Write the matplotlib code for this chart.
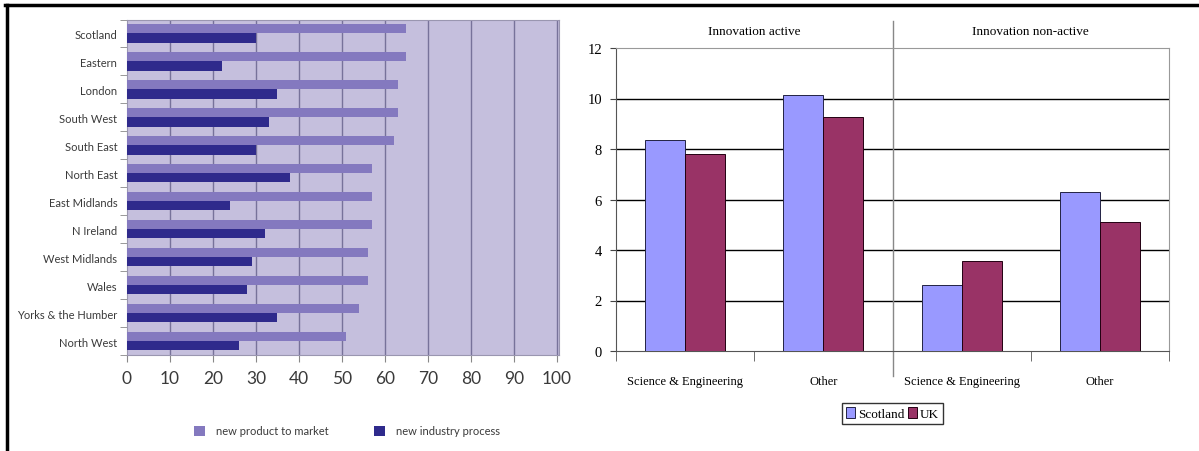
import numpy as np
import matplotlib
matplotlib.use("Agg")
from matplotlib import pyplot as plt
from matplotlib.patches import Patch
from matplotlib.lines import Line2D

# left chart: share of firms introducing innovations, by region
regions = ["Scotland", "Eastern", "London", "South West", "South East", "North East",
           "East Midlands", "N Ireland", "West Midlands", "Wales", "Yorks & the Humber",
           "North West"]
new_product = [65, 65, 63, 63, 62, 57, 57, 57, 56, 56, 54, 51]
new_process = [30, 22, 35, 33, 30, 38, 24, 32, 29, 28, 35, 26]
x_ticks_left = list(range(0, 101, 10))

# right chart: Scotland vs UK
groups = ["Innovation active", "Innovation non-active"]
subjects = ["Science & Engineering", "Other", "Science & Engineering", "Other"]
scotland = [8.35, 10.15, 2.6, 6.3]
uk = [7.8, 9.25, 3.55, 5.1]
y_ticks_right = list(range(0, 13, 2))

BG = "#c5bfdd"
LIGHT = "#8479bf"
DARK = "#2f2a8c"
GRID = "#77729a"
TXT = "#3a3a3a"

fig = plt.figure(figsize=(11.99, 4.52), dpi=100)
W, H = 1199, 452

# ---- left panel ----
ax1 = fig.add_axes([127 / W, 1 - 356 / H, (559 - 127) / W, (356 - 20.5) / H])
ax1.set_facecolor(BG)
pos = np.arange(len(regions))
bh = 0.33
ax1.barh(pos - bh / 2, new_product, height=bh, color=LIGHT, zorder=3)
ax1.barh(pos + bh / 2, new_process, height=bh, color=DARK, zorder=3)
ax1.set_xlim(0, 100.5)
ax1.set_ylim(len(regions) - 0.5, -0.5)
for v in x_ticks_left[1:]:
    ax1.axvline(v, color=GRID, lw=1, zorder=1)
ax1.set_xticks(x_ticks_left)
ax1.set_xticklabels([str(v) for v in x_ticks_left], fontsize=12.5, color=TXT,
                    family="Lato")
ax1.tick_params(axis="x", length=5, color="#888888", pad=6)
ax1.set_yticks(pos)
ax1.set_yticklabels(regions, fontsize=8, color=TXT, family="Lato")
ax1.tick_params(axis="y", which="major", length=0, pad=7)
ax1.set_yticks(np.arange(-0.5, len(regions)), minor=True)
ax1.tick_params(axis="y", which="minor", length=5, color="#888888")
for s in ax1.spines.values():
    s.set_color("#9a96b0")
    s.set_linewidth(0.8)

h1 = [Patch(facecolor=LIGHT, label="new product to market"),
      Patch(facecolor=DARK, label="new industry process")]
leg1 = fig.legend(handles=h1, loc="center", bbox_to_anchor=(347 / W, 1 - 432 / H),
                  ncol=2, frameon=False, handlelength=1.0, handleheight=1.0,
                  handletextpad=1.0, columnspacing=4.0,
                  prop={"family": "Lato", "size": 8})
for t in leg1.get_texts():
    t.set_color(TXT)

# ---- right panel ----
ax2 = fig.add_axes([616 / W, 1 - 352 / H, (1169 - 616) / W, (352 - 49) / H])
xp = np.arange(len(subjects))
bw = 0.29
ax2.bar(xp - bw / 2, scotland, width=bw, color="#9999ff", edgecolor="#222244",
        linewidth=0.7, zorder=3, label="Scotland")
ax2.bar(xp + bw / 2, uk, width=bw, color="#993366", edgecolor="#220011",
        linewidth=0.7, zorder=3, label="UK")
ax2.set_xlim(-0.5, len(subjects) - 0.5)
ax2.set_ylim(0, 12)
for v in y_ticks_right[1:-1]:
    ax2.axhline(v, color="black", lw=1, zorder=1)
ax2.set_yticks(y_ticks_right)
ax2.set_yticklabels([str(v) for v in y_ticks_right], fontsize=10.5,
                    family="Liberation Serif")
ax2.tick_params(axis="y", length=4, color="#444444", pad=6)
ax2.set_xticks(xp)
ax2.set_xticklabels(subjects, fontsize=9, family="Liberation Serif")
ax2.tick_params(axis="x", which="major", length=0, pad=17)
ax2.set_xticks(np.arange(-0.5, len(subjects)), minor=True)
ax2.tick_params(axis="x", which="minor", length=7, color="#555555")
ax2.spines["left"].set_color("#555555")
ax2.spines["bottom"].set_color("#555555")
ax2.spines["top"].set_color("#999999")
ax2.spines["right"].set_color("#999999")

# divider between the two groups, with group headers above
ax2.add_line(Line2D([0.5, 0.5], [-0.0825, 1.089], transform=ax2.transAxes,
                    color="#888888", lw=1, clip_on=False))
for i, g in enumerate(groups):
    ax2.text(0.25 + 0.5 * i, 1.055, g, transform=ax2.transAxes, ha="center",
             va="center", fontsize=9.5, family="Liberation Serif")

leg2 = ax2.legend(loc="center", bbox_to_anchor=(0.5, -0.205), ncol=2,
                  frameon=True, fancybox=False, edgecolor="black",
                  handlelength=0.7, handleheight=0.9, handletextpad=0.2,
                  columnspacing=0.3, borderpad=0.3, borderaxespad=0,
                  prop={"family": "Liberation Serif", "size": 9.5})
leg2.get_frame().set_linewidth(1.0)

# page frame (top and left edges)
fig.add_artist(Line2D([5 / W, 1], [1 - 5.5 / H, 1 - 5.5 / H], color="black", lw=2.5))
fig.add_artist(Line2D([6.5 / W, 6.5 / W], [0, 1 - 5.5 / H], color="black", lw=2.5))

fig.savefig("out.png", dpi=100)
